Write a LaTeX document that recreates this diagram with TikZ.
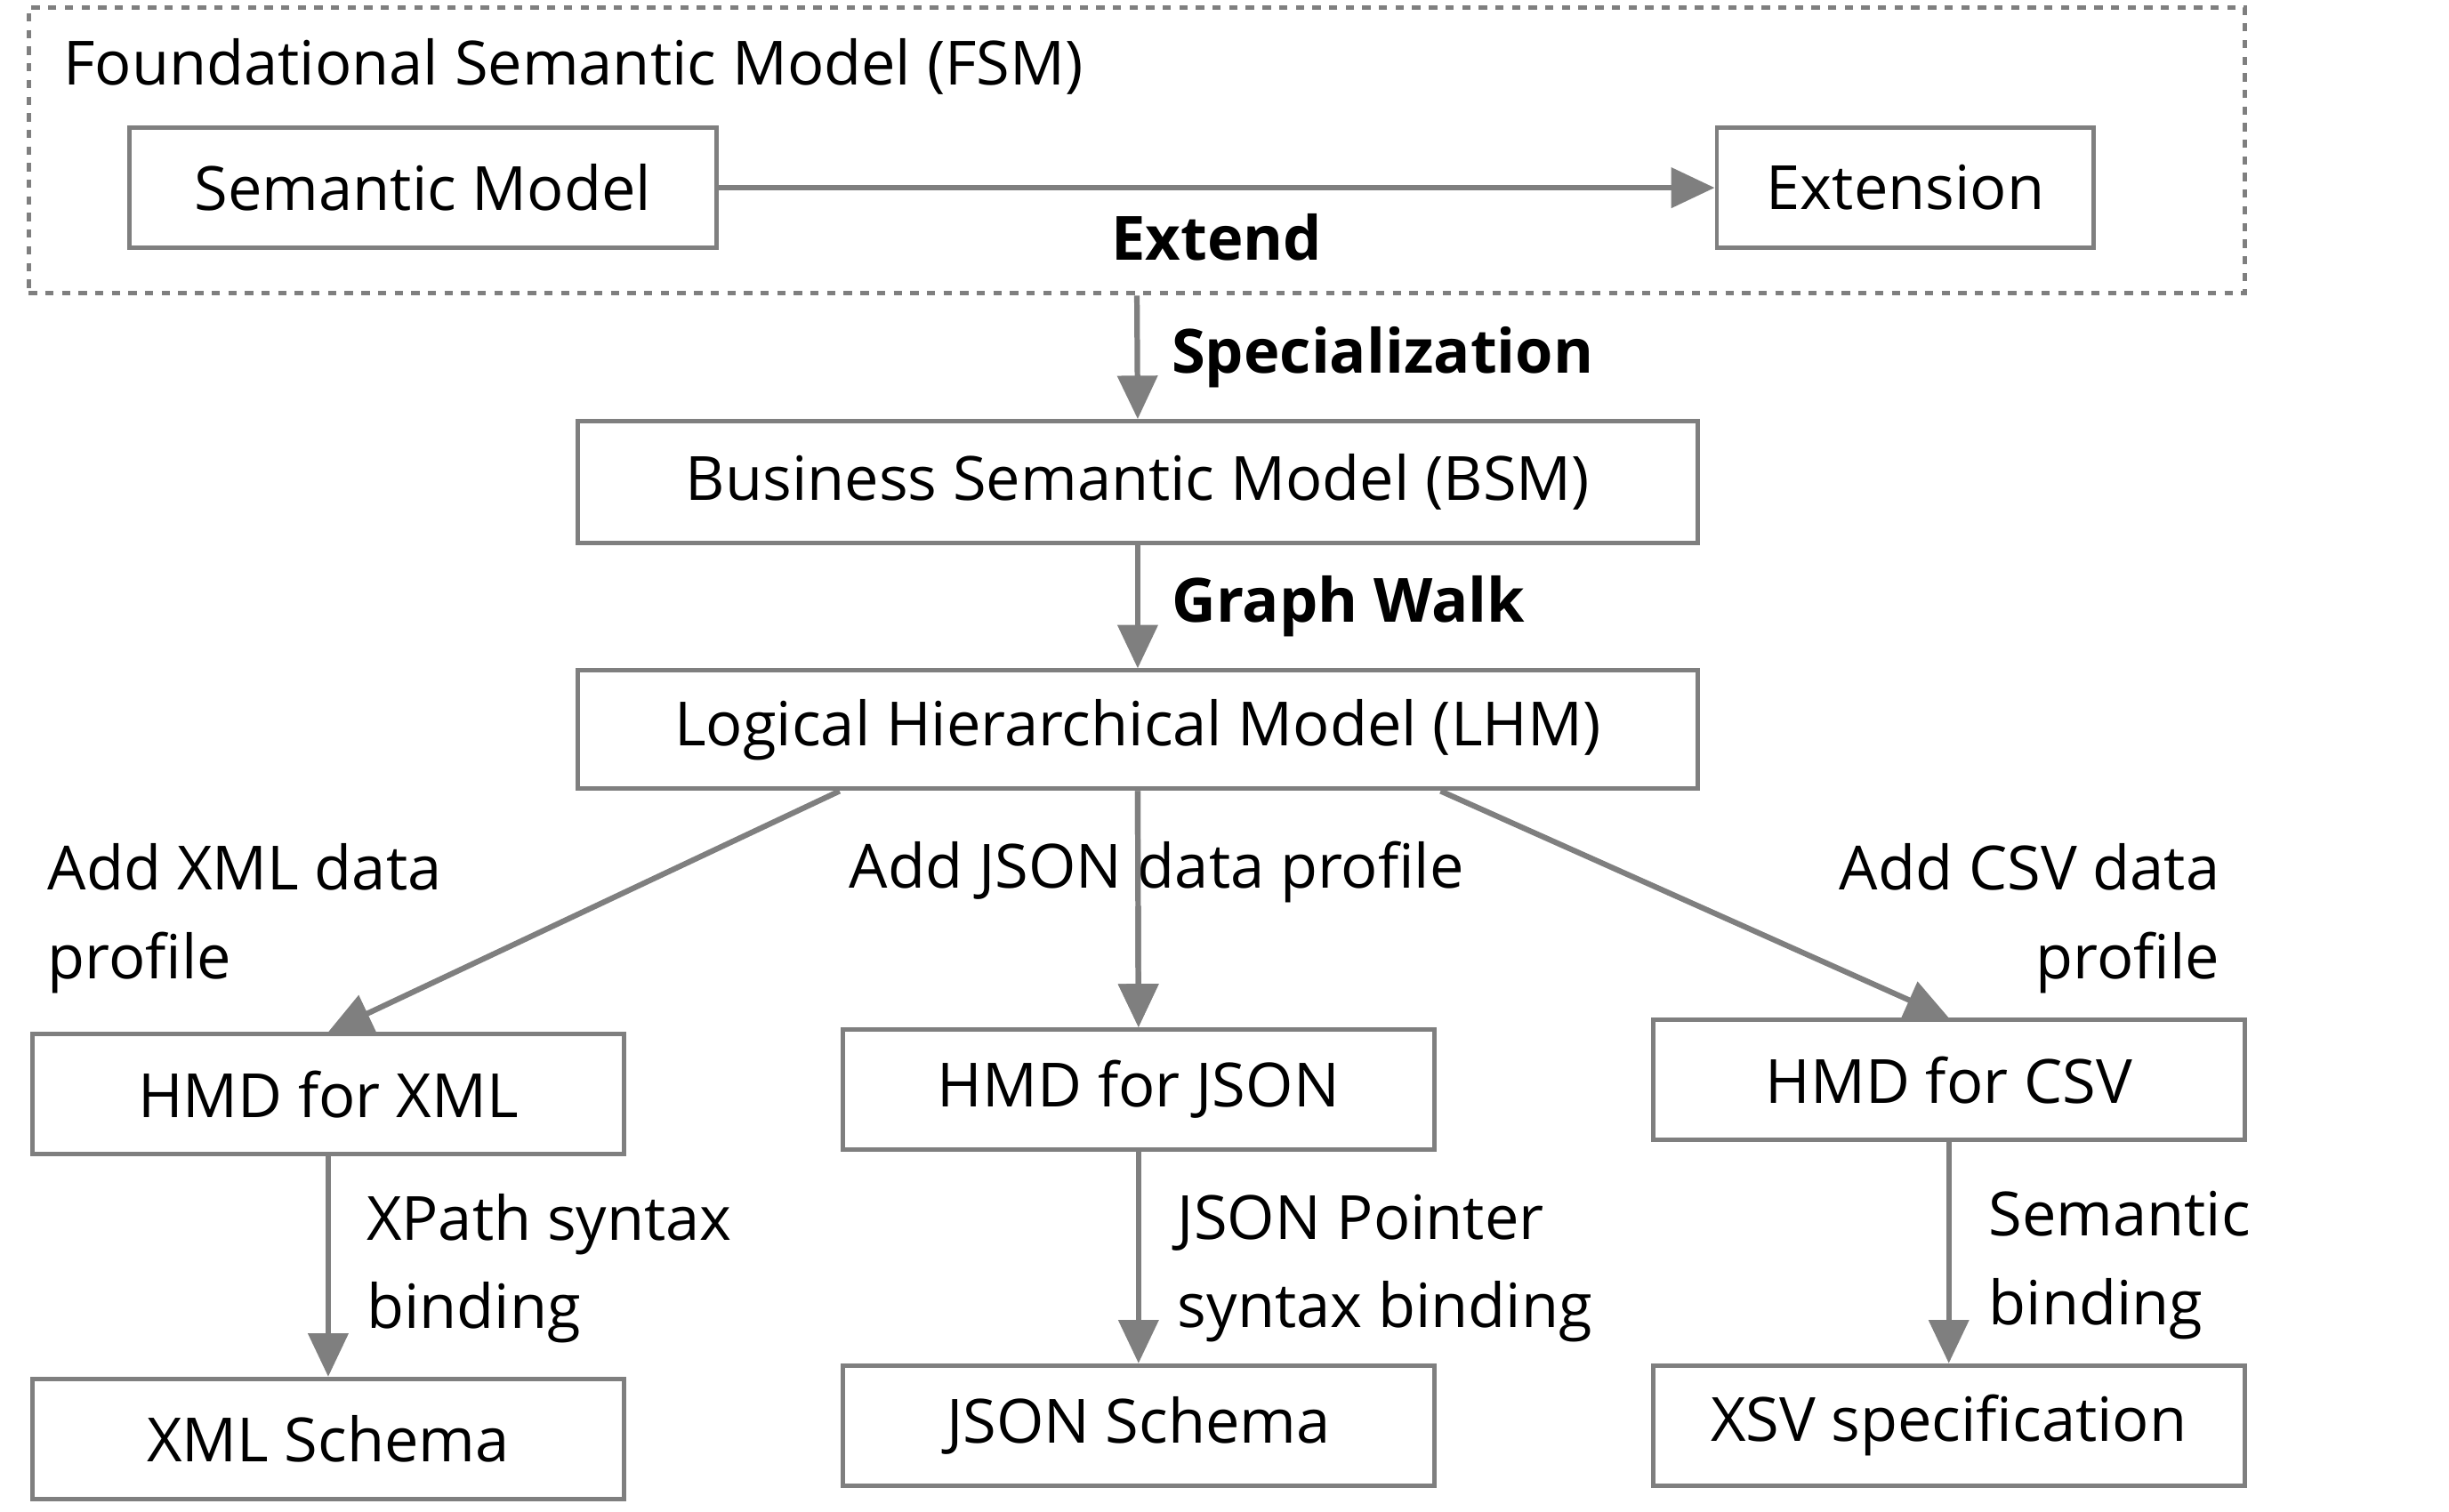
\documentclass[tikz,border=0pt]{standalone}
\usepackage{fontspec}
\setmainfont{Open Sans}
\usetikzlibrary{arrows.meta}
\definecolor{edgegray}{HTML}{7F7F7F}
\begin{document}
\begin{tikzpicture}[
    x=0.02cm, y=-0.02cm,
    font=\fontsize{22}{32}\selectfont,
    box/.style={
      draw=edgegray,
      line width=1.6pt,
      minimum width=7.5cm,
      minimum height=1.52cm,
      inner sep=0pt
    },
    flow/.style={
      draw=edgegray,
      line width=2pt,
      -{Triangle[length=0.55cm,width=0.5cm]}
    },
    lbl/.style={inner sep=0pt, align=left}
  ]
  \useasboundingbox (0,0) rectangle (1552,958);

  \node[box, dashed, minimum width=28.1cm, minimum height=3.62cm] (fsm) at (720.5,95.5) {};
  \node[lbl, anchor=west] (fsmtitle) at (40,42) {Foundational Semantic Model (FSM)};

  \node[box, minimum width=7.44cm] (sm) at (268,119) {Semantic Model};
  \node[box, minimum width=4.78cm] (ext) at (1207.5,119) {Extension};

  \node[box, minimum width=14.2cm, minimum height=1.54cm] (bsm) at (721,305.5) {Business Semantic Model (BSM)};
  \node[box, minimum width=14.2cm, minimum height=1.5cm] (lhm) at (721,462.5) {Logical Hierarchical Model (LHM)};

  \node[box] (hmdxml) at (208,693.5) {HMD for XML};
  \node[box] (hmdjson) at (721.5,690.5) {HMD for JSON};
  \node[box] (hmdcsv) at (1235,684.5) {HMD for CSV};

  \node[box] (xsd) at (208,912) {XML Schema};
  \node[box] (jsonschema) at (721.5,903.5) {JSON Schema};
  \node[box] (xsv) at (1235,903.5) {XSV specification};

  \draw[flow] (sm) -- (ext) node[lbl, pos=0.5, below=0.3cm, font=\fontsize{22}{32}\selectfont\bfseries] {Extend};
  \draw[flow] (fsm.south) -- (bsm.north) node[lbl, midway, anchor=west, xshift=0.4cm] {\bfseries Specialization};
  \draw[flow] (bsm) -- (lhm) node[lbl, midway, anchor=west, xshift=0.4cm] {\bfseries Graph Walk};

  \draw[flow] ([xshift=-3.78cm]lhm.south) -- (hmdxml.north);
  \draw[flow] (lhm.south) -- (hmdjson.north);
  \draw[flow] ([xshift=3.84cm]lhm.south) -- (hmdcsv.north);

  \node[lbl, anchor=west] (xmllbl) at (30,582) {Add XML data\\profile};
  \node[lbl, fill=white, inner sep=1pt] (jsonlbl) at (733,553) {Add JSON data profile};
  \draw[flow] (lhm.south) -- (hmdjson.north);
  \node[lbl, anchor=east, align=right] (csvlbl) at (1407,582) {Add CSV data\\profile};

  \draw[flow] (hmdxml) -- (xsd);
  \draw[flow] (hmdjson) -- (jsonschema);
  \draw[flow] (hmdcsv) -- (xsv);

  \node[lbl, anchor=west] (xpathlbl) at (232,804) {XPath syntax\\binding};
  \node[lbl, anchor=west] (pointerlbl) at (746,804) {JSON Pointer\\syntax binding};
  \node[lbl, anchor=west] (semlbl) at (1260,802) {Semantic\\binding};
\end{tikzpicture}
\end{document}
